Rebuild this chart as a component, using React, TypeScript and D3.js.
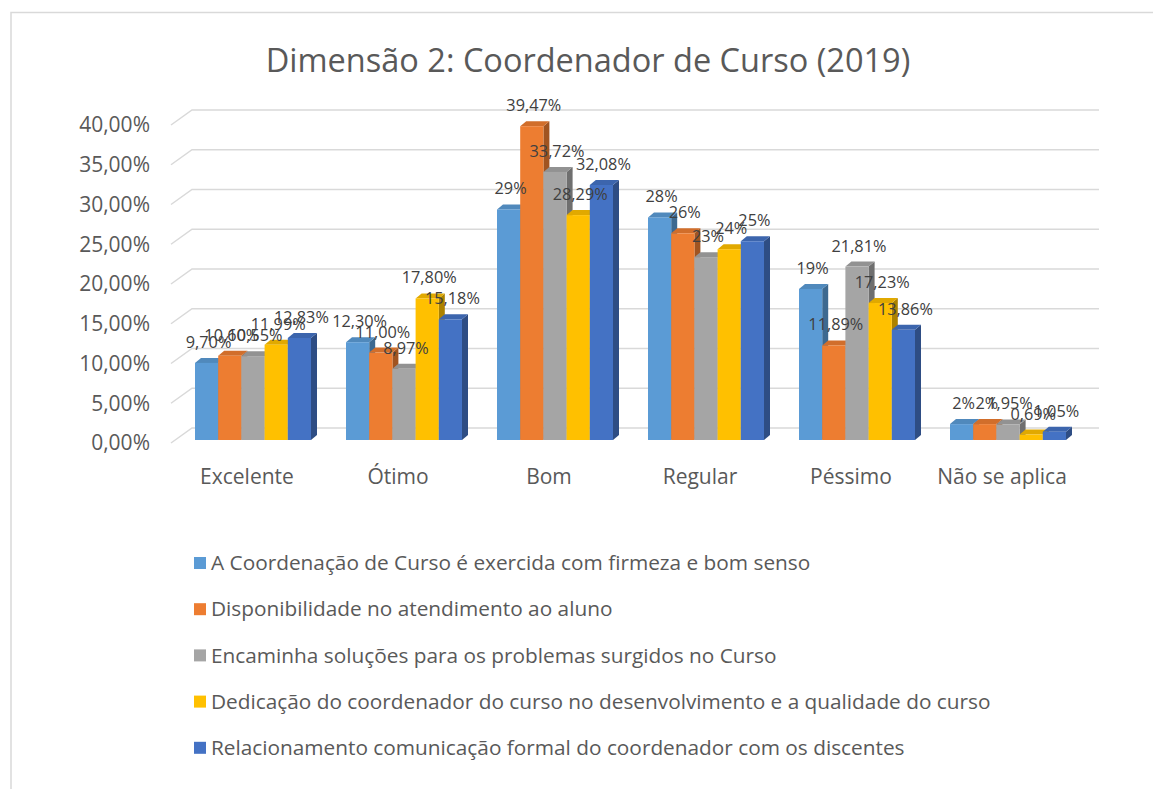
import * as d3 from 'd3'

const title = 'Dimensão 2: Coordenador de Curso (2019)'
const categories = ['Excelente', 'Ótimo', 'Bom', 'Regular', 'Péssimo', 'Não se aplica']
const seriesNames = [
  'A Coordenação de Curso é exercida com firmeza e bom senso',
  'Disponibilidade no atendimento ao aluno',
  'Encaminha soluções para os problemas surgidos no Curso',
  'Dedicação do coordenador do curso no desenvolvimento e a qualidade do curso',
  'Relacionamento comunicação formal do coordenador com os discentes',
]
const seriesColors = ['#5B9BD5', '#ED7D31', '#A5A5A5', '#FFC000', '#4472C4']
const firmeza = [9.7, 12.3, 29, 28, 19, 2]
const disponibilidade = [10.6, 11.0, 39.47, 26, 11.89, 2]
const encaminha = [10.55, 8.97, 33.72, 23, 21.81, 1.95]
const dedicacao = [11.99, 17.8, 28.29, 24, 17.23, 0.69]
const relacionamento = [12.83, 15.18, 32.08, 25, 13.86, 1.05]
// decimals shown in each data label (the source mixes "29%" and "11,00%")
const firmezaDec = [2, 2, 0, 0, 0, 0]
const disponibilidadeDec = [2, 2, 2, 0, 2, 0]
const encaminhaDec = [2, 2, 2, 0, 2, 2]
const dedicacaoDec = [2, 2, 2, 0, 2, 2]
const relacionamentoDec = [2, 2, 2, 0, 2, 2]
const yTicks = [0, 5, 10, 15, 20, 25, 30, 35, 40]

const seriesValues = [firmeza, disponibilidade, encaminha, dedicacao, relacionamento]
const seriesDec = [firmezaDec, disponibilidadeDec, encaminhaDec, dedicacaoDec, relacionamentoDec]

const W = 1153
const H = 789
const FONT = "'Open Sans', 'Liberation Sans', sans-serif"
const DEPTH_X = 21
const DEPTH_Y = -15
const BAR_DX = 6
const BAR_DY = -5

function fmtPct(v: number, dec: number): string {
  return `${v.toFixed(dec).replace('.', ',')}%`
}

export default function App() {
  // front plane scale (axis labels); back wall = front shifted by depth
  const y = d3.scaleLinear().domain([0, 40]).range([443, 125])
  const barBase = -3 // bars sit a little behind the front plane
  const x = d3
    .scaleBand<string>()
    .domain(categories)
    .range([177.5, 1083.5])
    .paddingInner(35 / 151)
    .paddingOuter(35 / 302)
  const xs = d3
    .scaleBand<number>()
    .domain(d3.range(seriesNames.length))
    .range([0, x.bandwidth()])

  const gridLeft = 171
  const gridRight = 1099

  return (
    <div style={{ position: 'absolute', left: 0, top: 0 }}>
      <svg width={W} height={H} style={{ display: 'block', fontFamily: FONT }}>
        <rect x={0} y={0} width={W} height={H} fill="#ffffff" />
        <path d={`M11,${H}V12.5H${W}`} fill="none" stroke="#d9d9d9" strokeWidth={1.5} />

        <text x={588} y={72} textAnchor="middle" fontSize={32.5} fill="#595959">
          {title}
        </text>

        {/* gridlines on back wall with floor diagonal */}
        {yTicks.map((t) => (
          <path
            key={t}
            d={`M${gridLeft},${y(t)}L${gridLeft + DEPTH_X},${y(t) + DEPTH_Y}H${gridRight}`}
            fill="none"
            stroke="#d9d9d9"
            strokeWidth={1.5}
          />
        ))}

        {yTicks.map((t) => (
          <text
            key={t}
            x={150}
            y={y(t)}
            dy="0.35em"
            textAnchor="end"
            fontSize={21}
            fill="#595959"
          >
            {t.toFixed(2).replace('.', ',')}%
          </text>
        ))}

        {categories.map((c, ci) => (
          <g key={c}>
            {seriesValues.map((vals, si) => {
              const v = vals[ci]
              const x0 = x(c)! + xs(si)!
              const w = xs.bandwidth()
              const yb = y(0) + barBase
              const yt = y(v) + barBase
              const col = d3.color(seriesColors[si])!
              const top = col.darker(0.35).formatHex()
              const side = col.darker(1.1).formatHex()
              return (
                <g key={si}>
                  <path
                    d={`M${x0 + w},${yt}L${x0 + w + BAR_DX},${yt + BAR_DY}V${yb + BAR_DY}L${x0 + w},${yb}Z`}
                    fill={side}
                  />
                  <path
                    d={`M${x0},${yt}L${x0 + BAR_DX},${yt + BAR_DY}H${x0 + w + BAR_DX}L${x0 + w},${yt}Z`}
                    fill={top}
                  />
                  <rect x={x0} y={yt} width={w} height={yb - yt} fill={seriesColors[si]} />
                </g>
              )
            })}
            <text
              x={x(c)! + x.bandwidth() / 2 - 6}
              y={477}
              dy="0.35em"
              textAnchor="middle"
              fontSize={21}
              fill="#595959"
            >
              {c}
            </text>
          </g>
        ))}

        {/* data labels drawn last so they sit on top */}
        {categories.map((c, ci) =>
          seriesValues.map((vals, si) => {
            const v = vals[ci]
            const cx = x(c)! + xs(si)! + xs.bandwidth() / 2 + 2
            return (
              <text
                key={`${c}-${si}`}
                x={cx}
                y={y(v) + barBase - 15}
                textAnchor="middle"
                fontSize={16.3}
                fill="#404040"
              >
                {fmtPct(v, seriesDec[si][ci])}
              </text>
            )
          })
        )}

        {seriesNames.map((s, si) => {
          const ly = 563 + si * 46.2
          return (
            <g key={s}>
              <rect x={194} y={ly - 6} width={12} height={12} fill={seriesColors[si]} />
              <text x={211} y={ly} dy="0.35em" fontSize={20.8} fill="#595959">
                {s}
              </text>
            </g>
          )
        })}
      </svg>
    </div>
  )
}
